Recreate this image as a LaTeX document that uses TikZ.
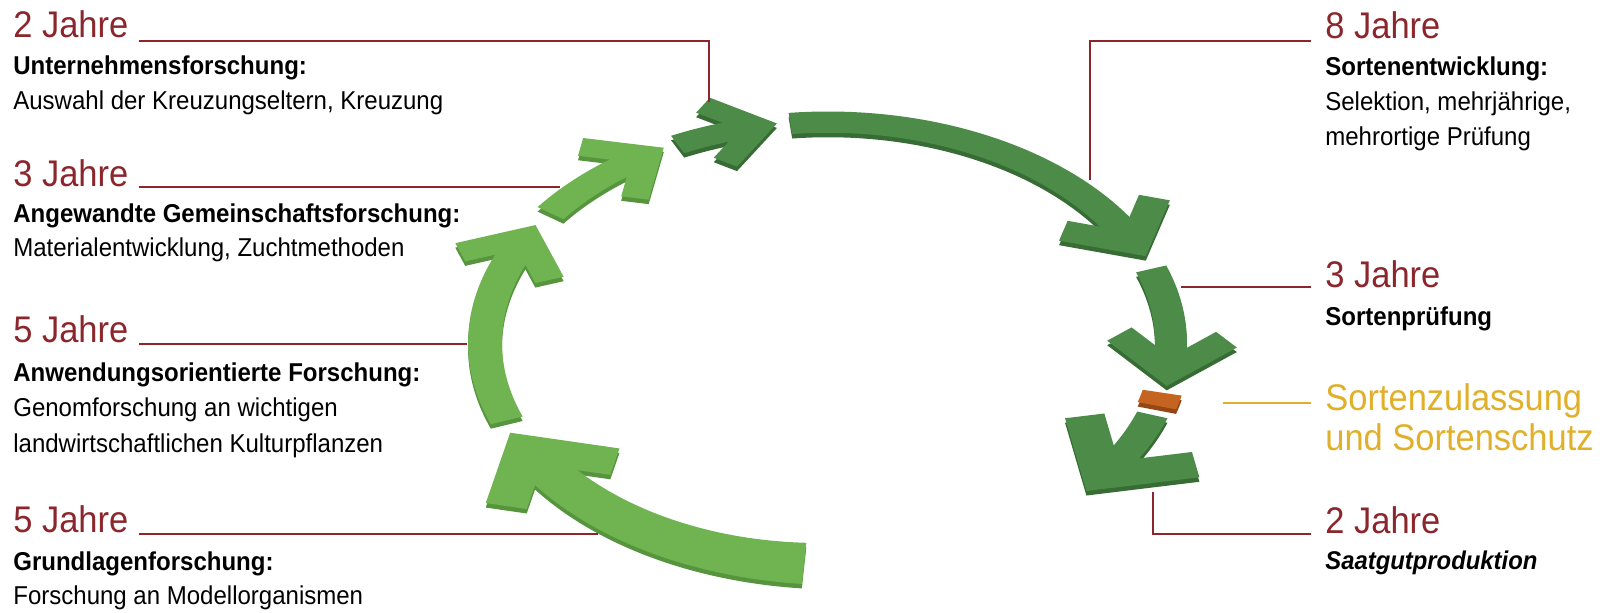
\documentclass[tikz,border=0pt]{standalone}
\usepackage{fontspec}
\setmainfont[FakeStretch=0.93]{Liberation Sans}
\usetikzlibrary{positioning}

\definecolor{jahrred}{RGB}{139,38,44}
\definecolor{goldtext}{RGB}{224,176,42}
\definecolor{leafface}{RGB}{112,180,82}
\definecolor{leafside}{RGB}{86,148,62}
\definecolor{pineface}{RGB}{76,139,72}
\definecolor{pineside}{RGB}{56,108,53}
\definecolor{stopface}{RGB}{196,100,32}
\definecolor{stopside}{RGB}{148,70,20}

% radius of the ring (before squashing)
\newcommand{\ringR}{343}
% band: colour, from angle, to angle, half width at start, half width at end
\newcommand{\ringband}[5]{%
  \fill[#1] plot[domain=#2:#3,samples=40] (\x:{\ringR+#4+(#5-(#4))*(\x-(#2))/((#3)-(#2))})
    -- plot[domain=#3:#2,samples=40] (\x:{\ringR-#4-(#5-(#4))*(\x-(#2))/((#3)-(#2))}) -- cycle;}
% chevron head: colour, angle of shaft end, half width of shaft, arm length, arm thickness
\newcommand{\ringhead}[5]{%
  \begin{scope}[rotate=#2]
    \pgfmathsetmacro{\hdD}{#3+0.7071*#5}
    \pgfmathsetmacro{\hdA}{0.7071*#4}
    \pgfmathsetmacro{\hdT}{0.7071*#5}
    \fill[#1] (\ringR,-\hdD) -- ({\ringR+\hdA},{-\hdD+\hdA}) -- ({\ringR+\hdA-\hdT},{-\hdD+\hdA+\hdT})
      -- (\ringR,{-\hdD+2*\hdT}) -- ({\ringR-\hdA+\hdT},{-\hdD+\hdA+\hdT}) -- ({\ringR-\hdA},{-\hdD+\hdA}) -- cycle;
  \end{scope}}
% the whole ring: light green, dark green, orange
\newcommand{\breedring}[3]{%
  \ringband{#1}{266}{212.4}{32}{23}\ringhead{#1}{212.4}{23}{112}{42}
  \ringband{#1}{200.5}{154.3}{17}{17}\ringhead{#1}{154.3}{17}{85}{30}
  \ringband{#1}{144}{124.4}{16}{16}\ringhead{#1}{124.4}{16}{82}{28}
  \ringband{#2}{116}{104.2}{15}{15}\ringhead{#2}{104.2}{15}{78}{27}
  \ringband{#2}{96.3}{29.5}{16.5}{16.5}\ringhead{#2}{29.5}{16.5}{90}{32}
  \ringband{#2}{19.6}{-4.7}{16}{16}\ringhead{#2}{-4.7}{16}{92}{32}
  \ringband{#3}{-13}{-16.5}{20}{20}
  \ringband{#2}{-19}{-34.3}{16}{16}\ringhead{#2}{-34.3}{16}{115}{40}}

\tikzset{
  jahre/.style={anchor=base west,inner sep=0pt,text=jahrred,font=\fontsize{21.1}{25}\selectfont},
  zulass/.style={jahre,text=goldtext},
  fach/.style={anchor=base west,inner sep=0pt,font=\fontsize{14.7}{17}\selectfont\bfseries},
  info/.style={anchor=base west,inner sep=0pt,font=\fontsize{14.7}{17}\selectfont},
  leader/.style={draw=jahrred,line width=1.1pt},
  goldleader/.style={draw=goldtext,line width=1.1pt},
}

\begin{document}
\begin{tikzpicture}[x=0.02cm,y=0.02cm]
\useasboundingbox (0,0) rectangle (1611,-612);

% ring of arrows, side faces first
\begin{scope}[yshift=-0.09cm,shift={(828,-343)},yscale=0.644]
  \breedring{leafside}{pineside}{stopside}
\end{scope}
\begin{scope}[shift={(828,-343)},yscale=0.644]
  \breedring{leafface}{pineface}{stopface}
\end{scope}

% where the leaders meet the ring
\coordinate (k1) at (709,-102);
\coordinate (k2) at (560,-187);
\coordinate (k3) at (467,-344);
\coordinate (k4) at (598,-534);
\coordinate (k8) at (1090,-180);
\coordinate (k9) at (1181,-287);
\coordinate (k10) at (1223,-403);
\coordinate (k11) at (1153,-492);

% left column
\node[jahre] (h1) at (13,-37) {2 Jahre};
\node[fach] (f1) at (13,-74) {Unternehmensforschung:};
\node[info] (i1) at (13,-109) {Auswahl der Kreuzungseltern, Kreuzung};

\node[jahre] (h2) at (13,-186) {3 Jahre};
\node[fach] (f2) at (13,-222) {Angewandte Gemeinschaftsforschung:};
\node[info] (i2) at (13,-256) {Materialentwicklung, Zuchtmethoden};

\node[jahre] (h3) at (13,-342) {5 Jahre};
\node[fach] (f3) at (13,-381) {Anwendungsorientierte Forschung:};
\node[info] (i3a) at (13,-416) {Genomforschung an wichtigen};
\node[info] (i3b) at (13,-452) {landwirtschaftlichen Kulturpflanzen};

\node[jahre] (h4) at (13,-532) {5 Jahre};
\node[fach] (f4) at (13,-570) {Grundlagenforschung:};
\node[info] (i4) at (13,-604) {Forschung an Modellorganismen};

% right column
\node[jahre] (h8) at (1325,-38) {8 Jahre};
\node[fach] (f8) at (1325,-75) {Sortenentwicklung:};
\node[info] (i8a) at (1325,-110) {Selektion, mehrjährige,};
\node[info] (i8b) at (1325,-145) {mehrortige Prüfung};

\node[jahre] (h9) at (1325,-287) {3 Jahre};
\node[fach] (f9) at (1325,-325) {Sortenprüfung};

\node[zulass] (z1) at (1325,-410) {Sortenzulassung};
\node[zulass] (z2) at (1325,-450) {und Sortenschutz};

\node[jahre] (h11) at (1325,-533) {2 Jahre};
\node[fach,font=\fontsize{14.6}{17}\selectfont\bfseries\itshape] (f11) at (1325,-569) {Saatgutproduktion};

% leaders
\draw[leader] ([shift={(10,-4)}]h1.base east) -| (k1);
\draw[leader] ([shift={(10,-1)}]h2.base east) -| (k2);
\draw[leader] ([shift={(10,-2)}]h3.base east) -| (k3);
\draw[leader] ([shift={(10,-2)}]h4.base east) -| (k4);
\draw[leader] ([shift={(-14,-3)}]h8.base west) -| (k8);
\draw[leader] ([shift={(-14,0)}]h9.base west) -| (k9);
\draw[goldleader] ([shift={(-14,7)}]z1.base west) -| (k10);
\draw[leader] ([shift={(-14,-1)}]h11.base west) -| (k11);
\end{tikzpicture}
\end{document}
